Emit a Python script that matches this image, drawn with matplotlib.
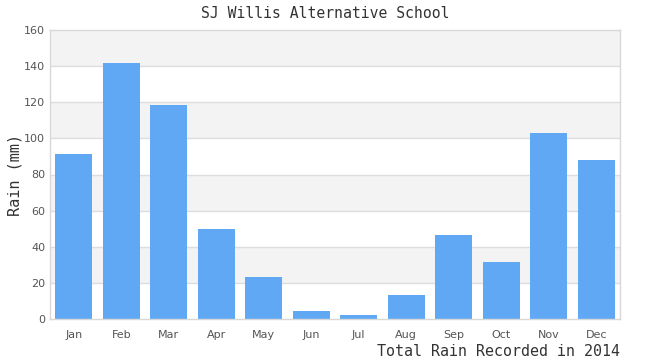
import matplotlib
matplotlib.use("Agg")
import matplotlib.pyplot as plt

months = ["Jan", "Feb", "Mar", "Apr", "May", "Jun", "Jul", "Aug", "Sep", "Oct", "Nov", "Dec"]
rain = [91.5, 141.8, 118.5, 50, 23.5, 4.5, 2.3, 13.5, 46.7, 31.7, 103, 88]
yticks = [0, 20, 40, 60, 80, 100, 120, 140, 160]

fig = plt.figure(figsize=(6.5, 3.6), dpi=100)
ax = fig.add_axes([50 / 650, 41 / 360, 570 / 650, 289 / 360])

# alternating bands
for i in range(len(yticks) - 1):
    if i % 2 == 1:
        ax.axhspan(yticks[i], yticks[i + 1], color="#f3f3f3", zorder=0, lw=0)
for t in yticks[1:-1]:
    ax.axhline(t, color="#dddddd", lw=1, zorder=1)

ax.bar(range(len(months)), rain, width=0.78, color="#60a8f4", zorder=2)

ax.set_xlim(-0.5, len(months) - 0.5)
ax.set_ylim(0, 160)
ax.set_yticks(yticks)
ax.set_xticks(range(len(months)))
ax.set_xticklabels(months)
ax.tick_params(length=0, labelsize=8, labelcolor="#555555")
ax.tick_params(axis="x", pad=8)
for s in ax.spines.values():
    s.set_color("#d8d8d8")
    s.set_linewidth(1)

mono = "DejaVu Sans Mono"
ax.set_ylabel("Rain (mm)", family=mono, fontsize=11, color="#333333", labelpad=1)
fig.text(325 / 650, 1 - 14 / 360, "SJ Willis Alternative School", family=mono,
         fontsize=10.6, color="#333333", ha="center", va="center")
fig.text(620 / 650, 1 - 352 / 360, "Total Rain Recorded in 2014", family=mono,
         fontsize=10.8, color="#333333", ha="right", va="center")

fig.savefig("out.png", dpi=100)
